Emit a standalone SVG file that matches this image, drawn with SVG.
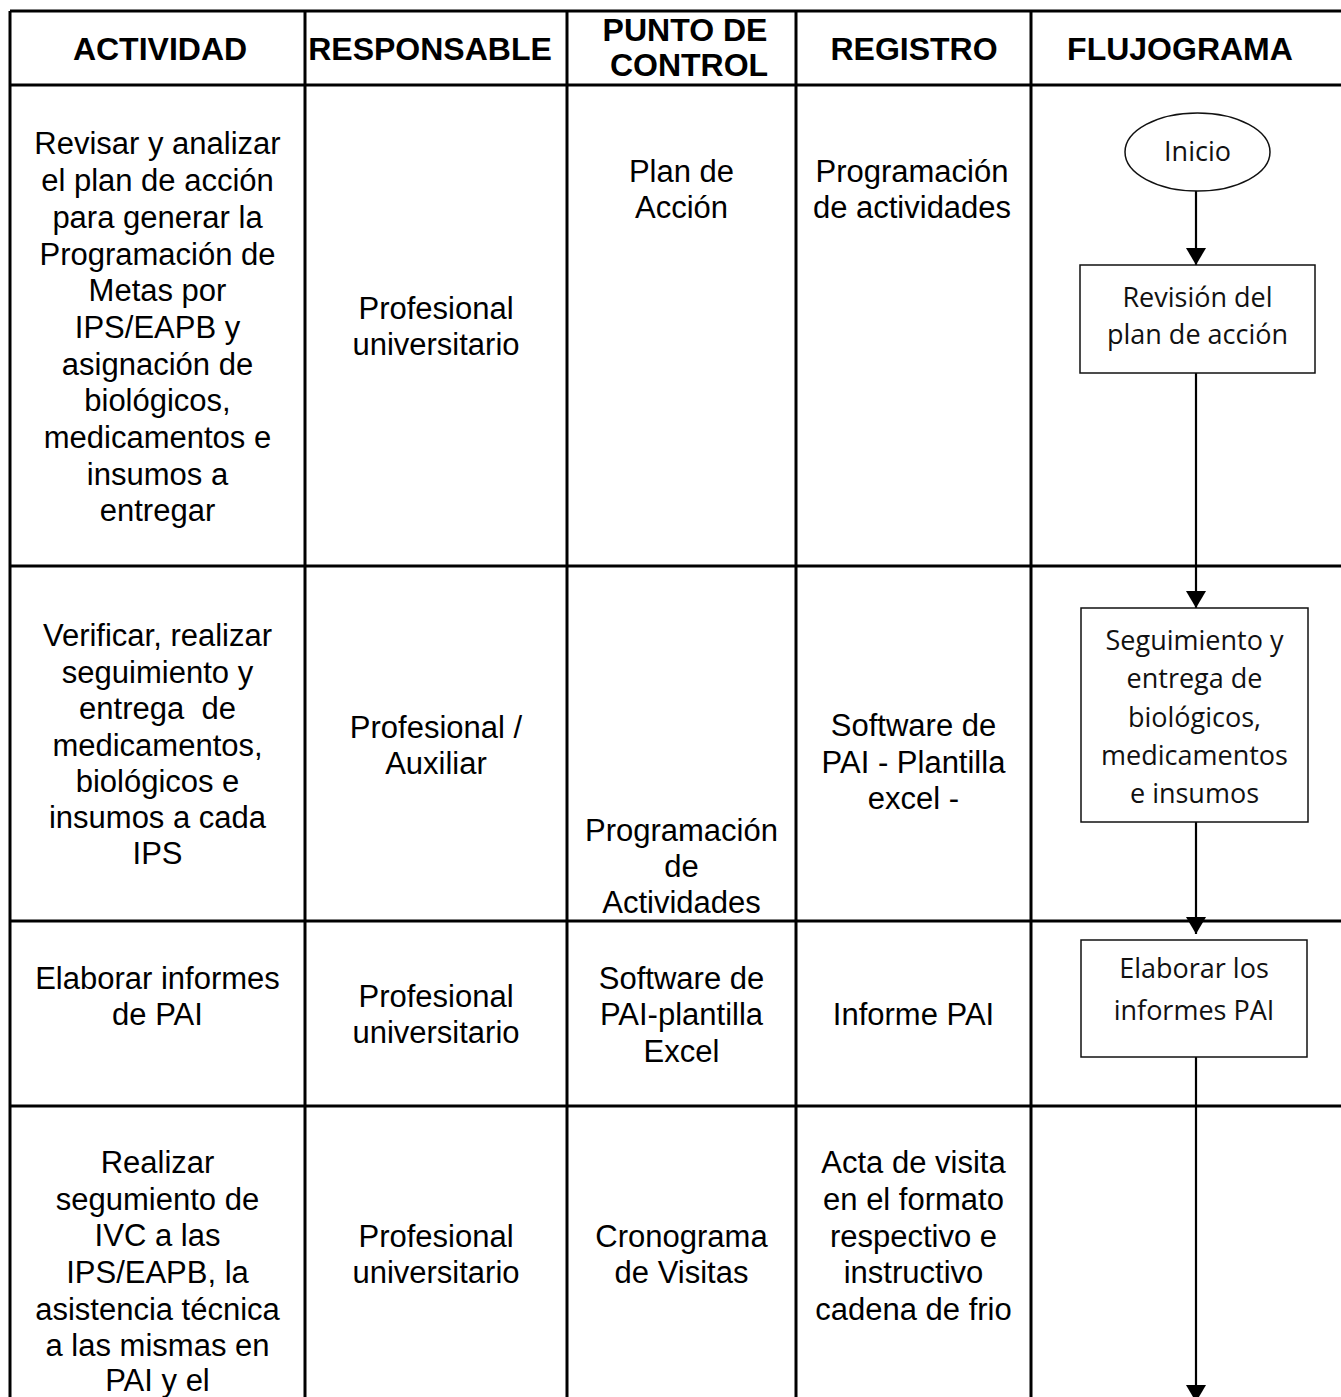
<svg xmlns="http://www.w3.org/2000/svg" width="1341" height="1397" viewBox="0 0 1341 1397">
<style>
.grid{stroke:#000;stroke-width:3;fill:none}
.h{font-family:"Liberation Sans",Arial,sans-serif;font-weight:bold;font-size:32px;fill:#000;text-anchor:middle}
.t{font-family:"Liberation Sans",Arial,sans-serif;font-size:31px;fill:#000;text-anchor:middle}
.f{font-family:"Open Sans","Noto Sans",sans-serif;font-size:27px;fill:#111;text-anchor:middle}
.box{fill:#fff;stroke:#111;stroke-width:1.5}
.con{stroke:#000;stroke-width:2.2;fill:none}
</style>
<defs>
<marker id="ah" markerUnits="userSpaceOnUse" markerWidth="17" markerHeight="20" refX="17" refY="10" orient="auto" viewBox="0 0 17 20">
<path d="M0,0 L17,10 L0,20 Z" fill="#000"/>
</marker>
</defs>
<rect width="1341" height="1397" fill="#fff"/>
<g id="table">
<path class="grid" d="M10,11 H1341 M10,85 H1341 M10,566 H1341 M10,921 H1341 M10,1106 H1341 M10,11 V1397 M305,11 V1397 M567,11 V1397 M796,11 V1397 M1031,11 V1397"/>
</g>
<g id="headers">
<text class="h" x="160" y="60">ACTIVIDAD</text>
<text class="h" x="430" y="60">RESPONSABLE</text>
<text class="h" x="685" y="41">PUNTO DE</text>
<text class="h" x="689" y="76">CONTROL</text>
<text class="h" x="914" y="60">REGISTRO</text>
<text class="h" x="1180" y="60">FLUJOGRAMA</text>
</g>
<g id="row1">
<text class="t" x="157.5" y="154">Revisar y analizar</text>
<text class="t" x="157.5" y="191">el plan de acción</text>
<text class="t" x="157.5" y="228">para generar la</text>
<text class="t" x="157.5" y="265">Programación de</text>
<text class="t" x="157.5" y="301">Metas por</text>
<text class="t" x="157.5" y="338">IPS/EAPB y</text>
<text class="t" x="157.5" y="375">asignación de</text>
<text class="t" x="157.5" y="411">biológicos,</text>
<text class="t" x="157.5" y="448">medicamentos e</text>
<text class="t" x="157.5" y="485">insumos a</text>
<text class="t" x="157.5" y="521">entregar</text>
<text class="t" x="436" y="319">Profesional</text>
<text class="t" x="436" y="355">universitario</text>
<text class="t" x="681.5" y="182">Plan de</text>
<text class="t" x="681.5" y="218">Acción</text>
<text class="t" x="912" y="182">Programación</text>
<text class="t" x="912" y="218">de actividades</text>
</g>
<g id="row2">
<text class="t" x="157.5" y="646">Verificar, realizar</text>
<text class="t" x="157.5" y="683">seguimiento y</text>
<text class="t" x="157.5" y="719" xml:space="preserve">entrega  de</text>
<text class="t" x="157.5" y="756">medicamentos,</text>
<text class="t" x="157.5" y="792">biológicos e</text>
<text class="t" x="157.5" y="828">insumos a cada</text>
<text class="t" x="157.5" y="864">IPS</text>
<text class="t" x="436" y="738">Profesional /</text>
<text class="t" x="436" y="774">Auxiliar</text>
<text class="t" x="681.5" y="841">Programación</text>
<text class="t" x="681.5" y="877">de</text>
<text class="t" x="681.5" y="913">Actividades</text>
<text class="t" x="913.5" y="736">Software de</text>
<text class="t" x="913.5" y="773">PAI - Plantilla</text>
<text class="t" x="913.5" y="809">excel -</text>
</g>
<g id="row3">
<text class="t" x="157.5" y="989">Elaborar informes</text>
<text class="t" x="157.5" y="1025">de PAI</text>
<text class="t" x="436" y="1007">Profesional</text>
<text class="t" x="436" y="1043">universitario</text>
<text class="t" x="681.5" y="989">Software de</text>
<text class="t" x="681.5" y="1025">PAI-plantilla</text>
<text class="t" x="681.5" y="1062">Excel</text>
<text class="t" x="913.5" y="1025">Informe PAI</text>
</g>
<g id="row4">
<text class="t" x="157.5" y="1173">Realizar</text>
<text class="t" x="157.5" y="1210">segumiento de</text>
<text class="t" x="157.5" y="1246">IVC a las</text>
<text class="t" x="157.5" y="1283">IPS/EAPB, la</text>
<text class="t" x="157.5" y="1320">asistencia técnica</text>
<text class="t" x="157.5" y="1356">a las mismas en</text>
<text class="t" x="157.5" y="1391">PAI y el</text>
<text class="t" x="436" y="1247">Profesional</text>
<text class="t" x="436" y="1283">universitario</text>
<text class="t" x="681.5" y="1247">Cronograma</text>
<text class="t" x="681.5" y="1283">de Visitas</text>
<text class="t" x="913.5" y="1173">Acta de visita</text>
<text class="t" x="913.5" y="1210">en el formato</text>
<text class="t" x="913.5" y="1247">respectivo e</text>
<text class="t" x="913.5" y="1283">instructivo</text>
<text class="t" x="913.5" y="1320">cadena de frio</text>
</g>
<g id="connectors">
<line class="con" x1="1196" y1="191" x2="1196" y2="265" marker-end="url(#ah)"/>
<line class="con" x1="1196" y1="373" x2="1196" y2="608" marker-end="url(#ah)"/>
<line class="con" x1="1196" y1="822" x2="1196" y2="934" marker-end="url(#ah)"/>
<line class="con" x1="1196" y1="1057" x2="1196" y2="1402" marker-end="url(#ah)"/>
</g>
<g id="inicio">
<ellipse class="box" cx="1197.5" cy="152" rx="72.5" ry="39"/>
<text class="f" x="1197.5" y="161">Inicio</text>
</g>
<g id="revision">
<rect class="box" x="1080" y="265" width="235" height="108"/>
<text class="f" x="1197.5" y="307">Revisión del</text>
<text class="f" x="1197.5" y="344">plan de acción</text>
</g>
<g id="seguimiento">
<rect class="box" x="1081" y="608" width="227" height="214"/>
<text class="f" x="1194.5" y="650">Seguimiento y</text>
<text class="f" x="1194.5" y="688">entrega de</text>
<text class="f" x="1194.5" y="727">biológicos,</text>
<text class="f" x="1194.5" y="765">medicamentos</text>
<text class="f" x="1194.5" y="803">e insumos</text>
</g>
<g id="elaborar">
<rect class="box" x="1081" y="940" width="226" height="117"/>
<text class="f" x="1194" y="978">Elaborar los</text>
<text class="f" x="1194" y="1020">informes PAI</text>
</g>
</svg>
